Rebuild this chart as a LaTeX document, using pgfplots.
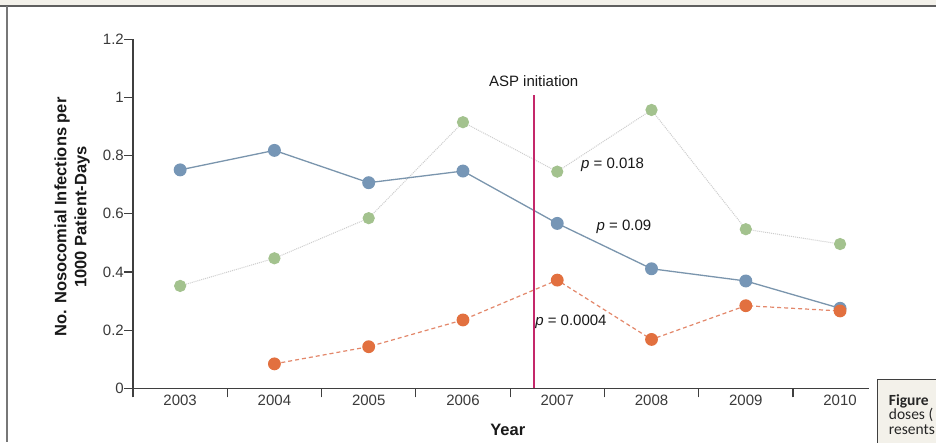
\documentclass[border=0pt]{standalone}
\usepackage{fontspec}
\setmainfont{Liberation Sans}
\newfontfamily\capfont{Carlito}
\usepackage{pgfplots}
\pgfplotsset{compat=1.18}

\definecolor{bluepts}{HTML}{7696B6}
\definecolor{blueln}{HTML}{7A95AD}
\definecolor{greenpts}{HTML}{A3C28E}
\definecolor{greenln}{HTML}{CDCDCD}
\definecolor{orangepts}{HTML}{E2703F}
\definecolor{orangeln}{HTML}{E3876A}
\definecolor{axisgray}{HTML}{3F3F3F}
\definecolor{ticktext}{HTML}{3A3A3A}
\definecolor{paper}{HTML}{F3F1EA}
\definecolor{framegray}{HTML}{5F5F5F}

\begin{document}
\begin{tikzpicture}
\clip (0pt,0pt) rectangle (936pt,442pt);
\fill[white] (0pt,0pt) rectangle (936pt,442pt);
% page frame
\fill[paper] (0pt,436pt) rectangle (936pt,442pt);
\draw[framegray, line width=1.6pt] (0pt,436pt) -- (936pt,436pt);
\draw[framegray!85, line width=1.3pt] (7pt,436pt) -- (7pt,0pt);
% neighbouring caption box
\filldraw[fill=paper, draw=axisgray, line width=1pt] (877.7pt,62.7pt) rectangle (960pt,-10pt);
\node[anchor=base west, inner sep=0pt, text=black!85, font=\capfont\bfseries\fontsize{15.5}{18}\selectfont] at (888.7pt,36.7pt) {Figure};
\node[anchor=base west, inner sep=0pt, text=black!85, font=\capfont\fontsize{15.5}{18}\selectfont] at (888.7pt,22.3pt) {doses (};
\node[anchor=base west, inner sep=0pt, text=black!85, font=\capfont\fontsize{15.5}{18}\selectfont] at (888.7pt,8pt) {resents};

\begin{axis}[
  at={(133pt,53.7pt)}, anchor=south west,
  scale only axis, width=736.3pt, height=349pt,
  xmin=2002.5, xmax=2010.31, ymin=0, ymax=1.2,
  axis x line=bottom, axis y line=left,
  axis line style={-, axisgray, line width=1.2pt},
  clip=false,
  tick align=outside,
  major tick length=9pt,
  tick style={axisgray, line width=1.2pt},
  /pgf/number format/assume math mode=true,
  ytick={0,0.2,0.4,0.6,0.8,1,1.2},
  yticklabels={0,0.2,0.4,0.6,0.8,1,1.2},
  yticklabel style={font=\fontsize{15}{17}\selectfont, text=ticktext, inner sep=0pt, xshift=0pt},
  xtick={2002.5,2003.5,...,2009.5},
  xticklabels={},
  extra x ticks={2003,2004,2005,2006,2007,2008,2009,2010},
  extra x tick labels={2003,2004,2005,2006,2007,2008,2009,2010},
  extra x tick style={major tick length=0pt,
    xticklabel style={font=\fontsize{15}{17}\selectfont, text=ticktext, inner sep=0pt, anchor=north, yshift=-7pt}},
  xlabel={Year},
  xlabel style={at={(axis description cs:0.509,-0.1195)}, anchor=center, font=\bfseries\fontsize{16.5}{18}\selectfont, text=black!90},
  ylabel={No. Nosocomial Infections per\\1000 Patient-Days},
  ylabel style={at={(axis description cs:-0.0828,0.491)}, anchor=center, align=center, font=\bfseries\fontsize{16.5}{20}\selectfont, text=black!90},
]
% green series, dotted
\addplot[greenln, line width=1pt, densely dotted, mark=*, mark size=5.6pt,
  mark options={solid, fill=greenpts, draw=greenpts}]
  coordinates {(2003,0.352) (2004,0.447) (2005,0.585) (2006,0.915) (2007,0.745) (2008,0.957) (2009,0.547) (2010,0.496)};
% blue series, solid
\addplot[blueln, line width=1.3pt, mark=*, mark size=5.8pt,
  mark options={solid, fill=bluepts, draw=bluepts}]
  coordinates {(2003,0.751) (2004,0.818) (2005,0.707) (2006,0.747) (2007,0.567) (2008,0.411) (2009,0.369) (2010,0.275)};
% orange series, dashed
\addplot[orangeln, line width=1.2pt, dash pattern=on 4pt off 3pt, mark=*, mark size=5.8pt,
  mark options={solid, fill=orangepts, draw=orangepts}]
  coordinates {(2004,0.084) (2005,0.143) (2006,0.235) (2007,0.372) (2008,0.168) (2009,0.284) (2010,0.266)};

% ASP initiation marker
\addplot[draw={rgb,255:red,196;green,40;blue,106}, line width=1.8pt, mark=none, forget plot]
  coordinates {(2006.75,0) (2006.75,1.01)};
\node[font=\fontsize{15}{17}\selectfont, text=black!90] at (axis cs:2006.75,1.055) {ASP initiation};

% trend p-values
\node[font=\fontsize{15}{17}\selectfont, text=black!90] at (axis cs:2007.587,0.768) {\textit{p} = 0.018};
\node[font=\fontsize{15}{17}\selectfont, text=black!90] at (axis cs:2007.707,0.556) {\textit{p} = 0.09};
\node[font=\fontsize{15}{17}\selectfont, text=black!90] at (axis cs:2007.145,0.229) {\textit{p} = 0.0004};
\end{axis}
\end{tikzpicture}
\end{document}
